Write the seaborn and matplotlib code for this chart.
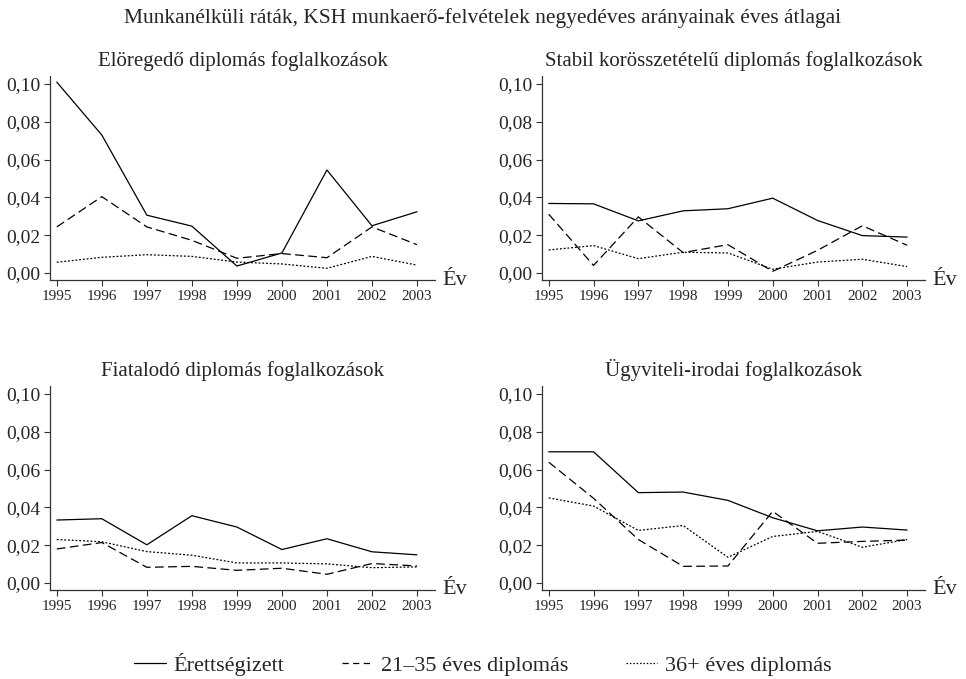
import numpy as np
import pandas as pd
import matplotlib
matplotlib.use("Agg")
import matplotlib.pyplot as plt
import seaborn as sns
from matplotlib.lines import Line2D

years = [1995, 1996, 1997, 1998, 1999, 2000, 2001, 2002, 2003]
series_names = ["Érettségizett", "21–35 éves diplomás", "36+ éves diplomás"]
panel_titles = [
    "Elöregedő diplomás foglalkozások",
    "Stabil korösszetételű diplomás foglalkozások",
    "Fiatalodó diplomás foglalkozások",
    "Ügyviteli-irodai foglalkozások",
]
suptitle = "Munkanélküli ráták, KSH munkaerő-felvételek negyedéves arányainak éves átlagai"
ytick_values = [0.00, 0.02, 0.04, 0.06, 0.08, 0.10]
ytick_labels = ["0,00", "0,02", "0,04", "0,06", "0,08", "0,10"]

p1_erett = [0.101, 0.073, 0.0306, 0.0248, 0.0037, 0.0106, 0.0545, 0.025, 0.0324]
p1_fiatal = [0.0244, 0.0404, 0.0244, 0.0173, 0.0078, 0.0103, 0.0081, 0.0244, 0.015]
p1_idos = [0.0057, 0.0083, 0.0097, 0.0088, 0.0058, 0.0048, 0.0025, 0.0088, 0.0042]

p2_erett = [0.0368, 0.0366, 0.0276, 0.0329, 0.034, 0.0396, 0.0278, 0.0198, 0.019]
p2_fiatal = [0.0311, 0.004, 0.0297, 0.0108, 0.015, 0.0009, 0.012, 0.025, 0.0147]
p2_idos = [0.0122, 0.0145, 0.0076, 0.011, 0.0106, 0.002, 0.0058, 0.0073, 0.0034]

p3_erett = [0.0333, 0.034, 0.0202, 0.0356, 0.0296, 0.0177, 0.0234, 0.0165, 0.0149]
p3_fiatal = [0.018, 0.0214, 0.0083, 0.0088, 0.0067, 0.0078, 0.0046, 0.0103, 0.009]
p3_idos = [0.023, 0.0218, 0.0166, 0.0147, 0.0106, 0.0106, 0.0101, 0.0081, 0.0085]

p4_erett = [0.0694, 0.0694, 0.0478, 0.0481, 0.0437, 0.0345, 0.0276, 0.0296, 0.028]
p4_fiatal = [0.0639, 0.0448, 0.023, 0.0088, 0.009, 0.0379, 0.021, 0.022, 0.0227]
p4_idos = [0.045, 0.0407, 0.0278, 0.0304, 0.0136, 0.0246, 0.0273, 0.0189, 0.023]

panels = [
    (p1_erett, p1_fiatal, p1_idos),
    (p2_erett, p2_fiatal, p2_idos),
    (p3_erett, p3_fiatal, p3_idos),
    (p4_erett, p4_fiatal, p4_idos),
]

sns.set_theme(style="ticks")
plt.rcParams["font.family"] = ["Liberation Serif", "DejaVu Serif"]
plt.rcParams["axes.linewidth"] = 0.9

fig = plt.figure(figsize=(9.66, 6.79), dpi=100)
fig.patch.set_facecolor("white")

positions = [
    [0.0518, 0.5876, 0.3985, 0.3004],
    [0.5611, 0.5876, 0.3965, 0.3004],
    [0.0518, 0.1311, 0.3985, 0.3004],
    [0.5611, 0.1311, 0.3965, 0.3004],
]

dash_map = {
    series_names[0]: "",
    series_names[1]: (7, 3.5),
    series_names[2]: (1.5, 1.5),
}

for i, (vals, pos) in enumerate(zip(panels, positions)):
    ax = fig.add_axes(pos)
    df = pd.DataFrame({
        "Év": years * 3,
        "ráta": list(vals[0]) + list(vals[1]) + list(vals[2]),
        "csoport": [series_names[0]] * 9 + [series_names[1]] * 9 + [series_names[2]] * 9,
    })
    sns.lineplot(data=df, x="Év", y="ráta", style="csoport", style_order=series_names,
                 dashes=dash_map, color="black", linewidth=0.9, legend=False, ax=ax)
    ax.set_xlim(1994.85, 2003.4)
    ax.set_ylim(-0.0037, 0.1042)
    ax.set_yticks(ytick_values)
    ax.set_yticklabels(ytick_labels, fontsize=14)
    ax.set_xticks(years)
    ax.set_xticklabels([str(y) for y in years], fontsize=11)
    ax.tick_params(axis="both", direction="out", length=4, width=0.8, color="#333333", pad=3)
    ax.set_xlabel("")
    ax.set_ylabel("")
    ax.set_facecolor("white")
    for s in ["top", "right"]:
        ax.spines[s].set_visible(False)
    for s in ["left", "bottom"]:
        ax.spines[s].set_color("#333333")
    ax.set_title(panel_titles[i], fontsize=15, pad=7)
    ax.text(1.02, 0.0, "Év", transform=ax.transAxes, fontsize=16, ha="left", va="center")

fig.suptitle(suptitle, fontsize=15.5, y=0.988)

handles = [
    Line2D([], [], color="black", linewidth=0.9, linestyle="-"),
    Line2D([], [], color="black", linewidth=0.9, dashes=(5, 3.5)),
    Line2D([], [], color="black", linewidth=0.9, dashes=(1.2, 1.5)),
]
fig.legend(handles, series_names, loc="center", bbox_to_anchor=(0.5, 0.022), ncol=3,
           frameon=False, fontsize=16, handlelength=1.4, handletextpad=0.35, columnspacing=2.6)

fig.savefig("out.png", dpi=100, facecolor="white")
